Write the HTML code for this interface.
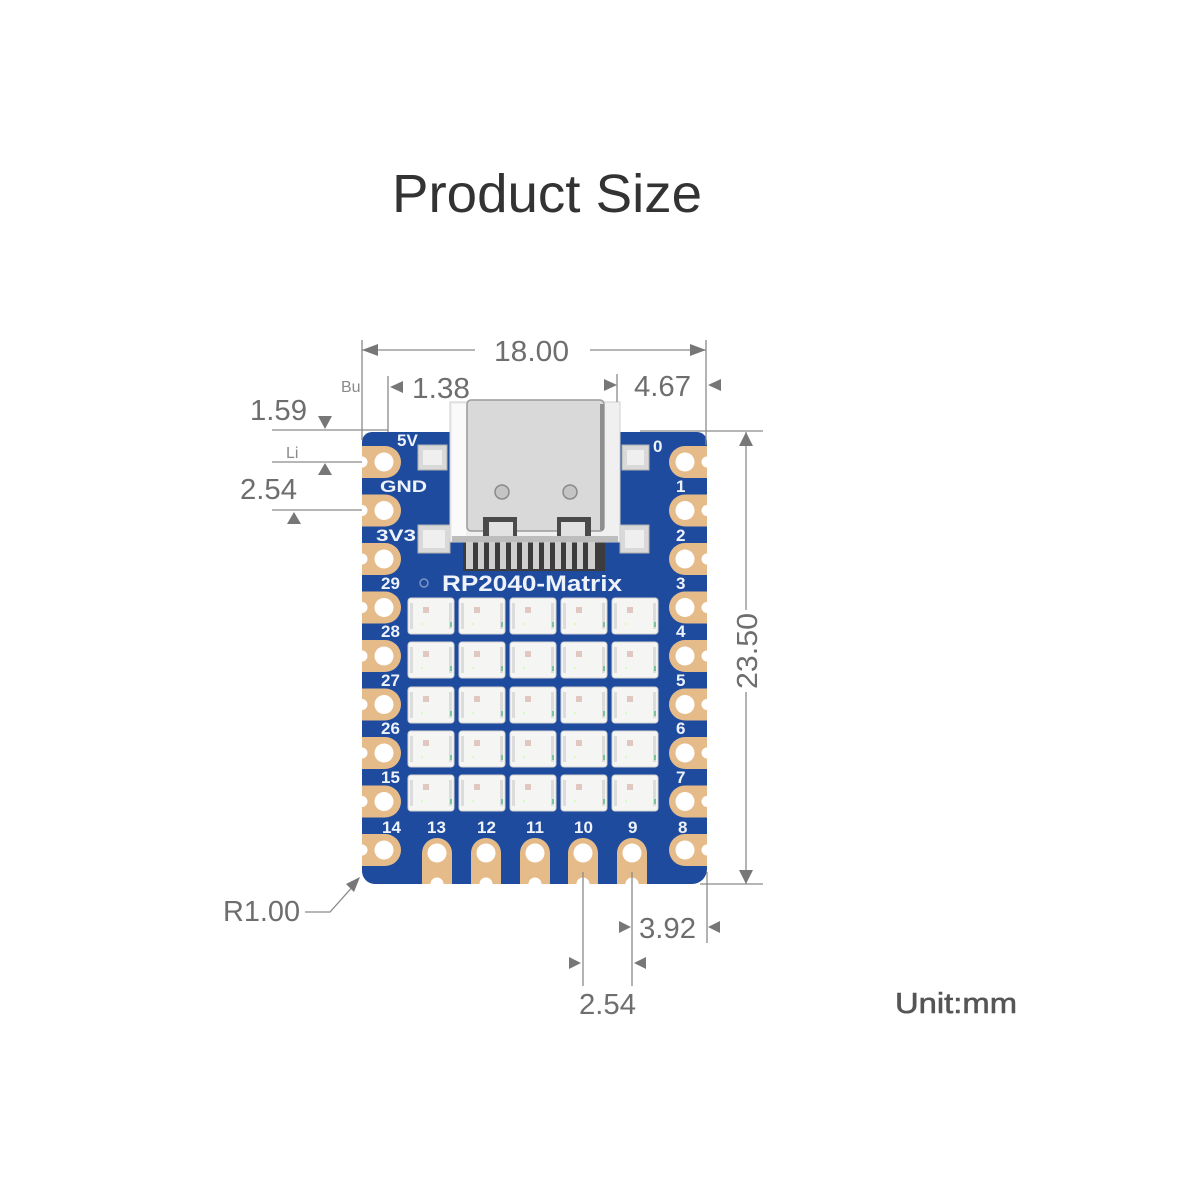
<!DOCTYPE html>
<html>
<head>
<meta charset="utf-8">
<style>
  html,body{margin:0;padding:0;background:#fff;}
  svg{display:block;}
  .dim{font-family:"Liberation Sans",sans-serif;font-size:29px;fill:#6e6e6e;}
  .lbl{font-family:"Liberation Sans",sans-serif;font-size:17px;font-weight:bold;fill:#eef2fb;}
</style>
</head>
<body>
<svg width="1200" height="1200" viewBox="0 0 1200 1200" xmlns="http://www.w3.org/2000/svg">
  <rect width="1200" height="1200" fill="#fff"/>

  <!-- Title -->
  <text x="392" y="212" font-family="Liberation Sans, sans-serif" font-size="54" fill="#333" textLength="310" lengthAdjust="spacingAndGlyphs">Product Size</text>

  <!-- ===== Board ===== -->
  <path d="M372,432 H697 A10,10 0 0 1 707,442 V869 A15,15 0 0 1 692,884 H375 A13,13 0 0 1 362,871 V442 A10,10 0 0 1 372,432 Z" fill="#1e4b9e"/>

  <!-- Left pads -->
  <g fill="#e5bb89">
    <path d="M362,446 H385 A16,16 0 0 1 385,478 H362 Z"/>
    <path d="M362,494.5 H385 A16,16 0 0 1 385,526.5 H362 Z"/>
    <path d="M362,543 H385 A16,16 0 0 1 385,575 H362 Z"/>
    <path d="M362,591.5 H385 A16,16 0 0 1 385,623.5 H362 Z"/>
    <path d="M362,640 H385 A16,16 0 0 1 385,672 H362 Z"/>
    <path d="M362,688.5 H385 A16,16 0 0 1 385,720.5 H362 Z"/>
    <path d="M362,737 H385 A16,16 0 0 1 385,769 H362 Z"/>
    <path d="M362,785.5 H385 A16,16 0 0 1 385,817.5 H362 Z"/>
    <path d="M362,834 H385 A16,16 0 0 1 385,866 H362 Z"/>
  </g>
  <!-- Right pads -->
  <g fill="#e5bb89">
    <path d="M707,446 H685 A16,16 0 0 0 685,478 H707 Z"/>
    <path d="M707,494.5 H685 A16,16 0 0 0 685,526.5 H707 Z"/>
    <path d="M707,543 H685 A16,16 0 0 0 685,575 H707 Z"/>
    <path d="M707,591.5 H685 A16,16 0 0 0 685,623.5 H707 Z"/>
    <path d="M707,640 H685 A16,16 0 0 0 685,672 H707 Z"/>
    <path d="M707,688.5 H685 A16,16 0 0 0 685,720.5 H707 Z"/>
    <path d="M707,737 H685 A16,16 0 0 0 685,769 H707 Z"/>
    <path d="M707,785.5 H685 A16,16 0 0 0 685,817.5 H707 Z"/>
    <path d="M707,834 H685 A16,16 0 0 0 685,866 H707 Z"/>
  </g>
  <!-- Bottom pads -->
  <g fill="#e5bb89">
    <path d="M422,884 V853 A15,15 0 0 1 452,853 V884 Z"/>
    <path d="M471,884 V853 A15,15 0 0 1 501,853 V884 Z"/>
    <path d="M520,884 V853 A15,15 0 0 1 550,853 V884 Z"/>
    <path d="M568,884 V853 A15,15 0 0 1 598,853 V884 Z"/>
    <path d="M617,884 V853 A15,15 0 0 1 647,853 V884 Z"/>
  </g>
  <!-- holes -->
  <g fill="#fff">
    <circle cx="384" cy="462" r="9.5"/><circle cx="384" cy="510.5" r="9.5"/><circle cx="384" cy="559" r="9.5"/>
    <circle cx="384" cy="607.5" r="9.5"/><circle cx="384" cy="656" r="9.5"/><circle cx="384" cy="704.5" r="9.5"/>
    <circle cx="384" cy="753" r="9.5"/><circle cx="384" cy="801.5" r="9.5"/><circle cx="384" cy="850" r="9.5"/>
    <circle cx="685" cy="462" r="9.5"/><circle cx="685" cy="510.5" r="9.5"/><circle cx="685" cy="559" r="9.5"/>
    <circle cx="685" cy="607.5" r="9.5"/><circle cx="685" cy="656" r="9.5"/><circle cx="685" cy="704.5" r="9.5"/>
    <circle cx="685" cy="753" r="9.5"/><circle cx="685" cy="801.5" r="9.5"/><circle cx="685" cy="850" r="9.5"/>
    <circle cx="437" cy="853" r="9.5"/><circle cx="486" cy="853" r="9.5"/><circle cx="535" cy="853" r="9.5"/>
    <circle cx="583" cy="853" r="9.5"/><circle cx="632" cy="853" r="9.5"/>
    <!-- castellation notches -->
    <circle cx="362" cy="462" r="5.5"/><circle cx="362" cy="510.5" r="5.5"/><circle cx="362" cy="559" r="5.5"/>
    <circle cx="362" cy="607.5" r="5.5"/><circle cx="362" cy="656" r="5.5"/><circle cx="362" cy="704.5" r="5.5"/>
    <circle cx="362" cy="753" r="5.5"/><circle cx="362" cy="801.5" r="5.5"/><circle cx="362" cy="850" r="5.5"/>
    <circle cx="707" cy="462" r="5.5"/><circle cx="707" cy="510.5" r="5.5"/><circle cx="707" cy="559" r="5.5"/>
    <circle cx="707" cy="607.5" r="5.5"/><circle cx="707" cy="656" r="5.5"/><circle cx="707" cy="704.5" r="5.5"/>
    <circle cx="707" cy="753" r="5.5"/><circle cx="707" cy="801.5" r="5.5"/><circle cx="707" cy="850" r="5.5"/>
    <circle cx="437" cy="884" r="6.5"/><circle cx="486" cy="884" r="6.5"/><circle cx="535" cy="884" r="6.5"/>
    <circle cx="583" cy="884" r="6.5"/><circle cx="632" cy="884" r="6.5"/>
  </g>

  <!-- Pin labels -->
  <g class="lbl">
    <text x="397" y="446">5V</text>
    <text x="380" y="492" textLength="47" lengthAdjust="spacingAndGlyphs">GND</text>
    <text x="376" y="541" textLength="40" lengthAdjust="spacingAndGlyphs">3V3</text>
    <text x="381" y="589">29</text>
    <text x="381" y="637">28</text>
    <text x="381" y="686">27</text>
    <text x="381" y="734">26</text>
    <text x="381" y="783">15</text>
    <text x="382" y="833">14</text>
    <text x="427" y="833">13</text>
    <text x="477" y="833">12</text>
    <text x="526" y="833">11</text>
    <text x="574" y="833">10</text>
    <text x="628" y="833">9</text>
    <text x="678" y="833">8</text>
    <text x="653" y="452">0</text>
    <text x="676" y="492">1</text>
    <text x="676" y="541">2</text>
    <text x="676" y="589">3</text>
    <text x="676" y="637">4</text>
    <text x="676" y="686">5</text>
    <text x="676" y="734">6</text>
    <text x="676" y="783">7</text>
  </g>
  <circle cx="424" cy="583" r="4" fill="none" stroke="#7f95c4" stroke-width="1.5"/>
  <text x="442" y="591" font-family="Liberation Sans, sans-serif" font-size="22" font-weight="bold" fill="#eef2fb" textLength="180" lengthAdjust="spacingAndGlyphs">RP2040-Matrix</text>

  <!-- SMD pads beside USB -->
  <g>
    <rect x="418" y="445" width="29" height="25" fill="#d9d9d9" stroke="#b0b0b0"/>
    <rect x="423" y="450" width="19" height="15" fill="#efefef"/>
    <rect x="622" y="445" width="27" height="25" fill="#d9d9d9" stroke="#b0b0b0"/>
    <rect x="627" y="450" width="17" height="15" fill="#efefef"/>
    <rect x="418" y="525" width="32" height="28" fill="#d9d9d9" stroke="#b0b0b0"/>
    <rect x="423" y="530" width="22" height="18" fill="#efefef"/>
    <rect x="620" y="525" width="29" height="28" fill="#d9d9d9" stroke="#b0b0b0"/>
    <rect x="625" y="530" width="19" height="18" fill="#efefef"/>
  </g>

  <!-- USB-C connector -->
  <g>
    <rect x="463" y="540" width="142" height="31" fill="#3c3c3c"/>
    <g fill="#cfcfcf">
      <rect x="466" y="542" width="7" height="27"/><rect x="478" y="542" width="6" height="27"/>
      <rect x="489" y="542" width="6" height="27"/><rect x="500" y="542" width="6" height="27"/>
      <rect x="511" y="542" width="6" height="27"/><rect x="522" y="542" width="6" height="27"/>
      <rect x="533" y="542" width="6" height="27"/><rect x="544" y="542" width="6" height="27"/>
      <rect x="555" y="542" width="6" height="27"/><rect x="566" y="542" width="6" height="27"/>
      <rect x="577" y="542" width="6" height="27"/><rect x="588" y="542" width="7" height="27"/>
    </g>
    <rect x="450" y="402" width="170" height="140" fill="#f0f0f0" stroke="#cfcfcf"/>
    <rect x="452" y="404" width="14" height="136" fill="#fafafa"/>
    <rect x="467" y="400" width="137" height="131" rx="4" fill="#d9d9d9" stroke="#9a9a9a" stroke-width="1.5"/>
    <rect x="600" y="404" width="4" height="126" fill="#8e8e8e"/>
    <circle cx="502" cy="492" r="7" fill="#c4c4c4" stroke="#8a8a8a" stroke-width="1.5"/>
    <circle cx="570" cy="492" r="7" fill="#c4c4c4" stroke="#8a8a8a" stroke-width="1.5"/>
    <rect x="483" y="517" width="34" height="24" fill="#4a4a4a"/>
    <rect x="489" y="522" width="24" height="19" fill="#e2e2e2"/>
    <rect x="557" y="517" width="34" height="24" fill="#4a4a4a"/>
    <rect x="561" y="522" width="24" height="19" fill="#e2e2e2"/>
    <rect x="452" y="536" width="166" height="6" fill="#bdbdbd"/>
  </g>

  <!-- LED matrix -->
  <defs>
    <g id="led">
      <rect x="0" y="0" width="46" height="36" rx="3" fill="#f5f5f3" stroke="#d2d2d0" stroke-width="1"/>
      <rect x="2" y="5" width="3" height="26" fill="#dcdcdc"/>
      <rect x="41" y="5" width="3" height="26" fill="#dcdcdc"/>
      <rect x="42" y="24" width="2" height="5" fill="#7cc49a"/>
      <rect x="15" y="9" width="6" height="6" fill="#e0c7bf"/>
      <circle cx="14" cy="26" r="1" fill="#cfa"/>
    </g>
  </defs>
  <g>
    <use href="#led" x="408" y="598"/><use href="#led" x="459" y="598"/><use href="#led" x="510" y="598"/><use href="#led" x="561" y="598"/><use href="#led" x="612" y="598"/>
    <use href="#led" x="408" y="642"/><use href="#led" x="459" y="642"/><use href="#led" x="510" y="642"/><use href="#led" x="561" y="642"/><use href="#led" x="612" y="642"/>
    <use href="#led" x="408" y="687"/><use href="#led" x="459" y="687"/><use href="#led" x="510" y="687"/><use href="#led" x="561" y="687"/><use href="#led" x="612" y="687"/>
    <use href="#led" x="408" y="731"/><use href="#led" x="459" y="731"/><use href="#led" x="510" y="731"/><use href="#led" x="561" y="731"/><use href="#led" x="612" y="731"/>
    <use href="#led" x="408" y="775"/><use href="#led" x="459" y="775"/><use href="#led" x="510" y="775"/><use href="#led" x="561" y="775"/><use href="#led" x="612" y="775"/>
  </g>

  <!-- ===== Dimension lines ===== -->
  <g stroke="#8a8a8a" stroke-width="1.3" fill="none">
    <line x1="362" y1="340" x2="362" y2="440"/>
    <line x1="706" y1="340" x2="706" y2="445"/>
    <line x1="362" y1="350" x2="475" y2="350"/>
    <line x1="590" y1="350" x2="706" y2="350"/>
    <line x1="388" y1="376" x2="388" y2="432"/>
    <line x1="617" y1="374" x2="617" y2="402"/>
    <line x1="272" y1="430" x2="388" y2="430"/>
    <line x1="272" y1="462" x2="362" y2="462"/>
    <line x1="272" y1="510" x2="362" y2="510"/>
    <line x1="640" y1="431" x2="763" y2="431"/>
    <line x1="700" y1="884" x2="763" y2="884"/>
    <line x1="746" y1="432" x2="746" y2="610"/>
    <line x1="746" y1="692" x2="746" y2="884"/>
    <line x1="583" y1="872" x2="583" y2="986"/>
    <line x1="632" y1="872" x2="632" y2="986"/>
    <line x1="707" y1="872" x2="707" y2="943"/>
    <polyline points="305,912 330,912 355,884"/>
  </g>
  <g fill="#777">
    <polygon points="362,350 378,344 378,356"/>
    <polygon points="706,350 690,344 690,356"/>
    <polygon points="390,387 403,381 403,393"/>
    <polygon points="617,385 604,379 604,391"/>
    <polygon points="708,385 721,379 721,391"/>
    <polygon points="318,416 332,416 325,429"/>
    <polygon points="325,463 318,475 332,475"/>
    <polygon points="294,512 287,524 301,524"/>
    <polygon points="746,432 739,446 753,446"/>
    <polygon points="746,884 739,870 753,870"/>
    <polygon points="631,927 619,921 619,933"/>
    <polygon points="708,927 720,921 720,933"/>
    <polygon points="581,963 569,957 569,969"/>
    <polygon points="634,963 646,957 646,969"/>
    <polygon points="360,877 346,884 354,892"/>
  </g>

  <!-- Dimension texts -->
  <text class="dim" x="494" y="361" textLength="75" lengthAdjust="spacingAndGlyphs">18.00</text>
  <text class="dim" x="412" y="398" textLength="58" lengthAdjust="spacingAndGlyphs">1.38</text>
  <text class="dim" x="634" y="396" textLength="57" lengthAdjust="spacingAndGlyphs">4.67</text>
  <text class="dim" x="250" y="420" textLength="57" lengthAdjust="spacingAndGlyphs">1.59</text>
  <text class="dim" x="240" y="499" textLength="57" lengthAdjust="spacingAndGlyphs">2.54</text>
  <text class="dim" x="223" y="921" textLength="77" lengthAdjust="spacingAndGlyphs">R1.00</text>
  <text class="dim" x="639" y="938" textLength="57" lengthAdjust="spacingAndGlyphs">3.92</text>
  <text class="dim" x="579" y="1014" textLength="57" lengthAdjust="spacingAndGlyphs">2.54</text>
  <text class="dim" transform="translate(757,651) rotate(-90)" text-anchor="middle" textLength="76" lengthAdjust="spacingAndGlyphs">23.50</text>
  <text x="341" y="392" font-family="Liberation Sans, sans-serif" font-size="16" fill="#8a8a8a">Bu</text>
  <text x="286" y="458" font-family="Liberation Sans, sans-serif" font-size="16" fill="#8a8a8a">Li</text>

  <!-- Unit -->
  <text x="895" y="1013" font-family="Liberation Sans, sans-serif" font-size="29" fill="#555" stroke="#555" stroke-width="0.6" textLength="122" lengthAdjust="spacingAndGlyphs">Unit:mm</text>
</svg>
</body>
</html>
